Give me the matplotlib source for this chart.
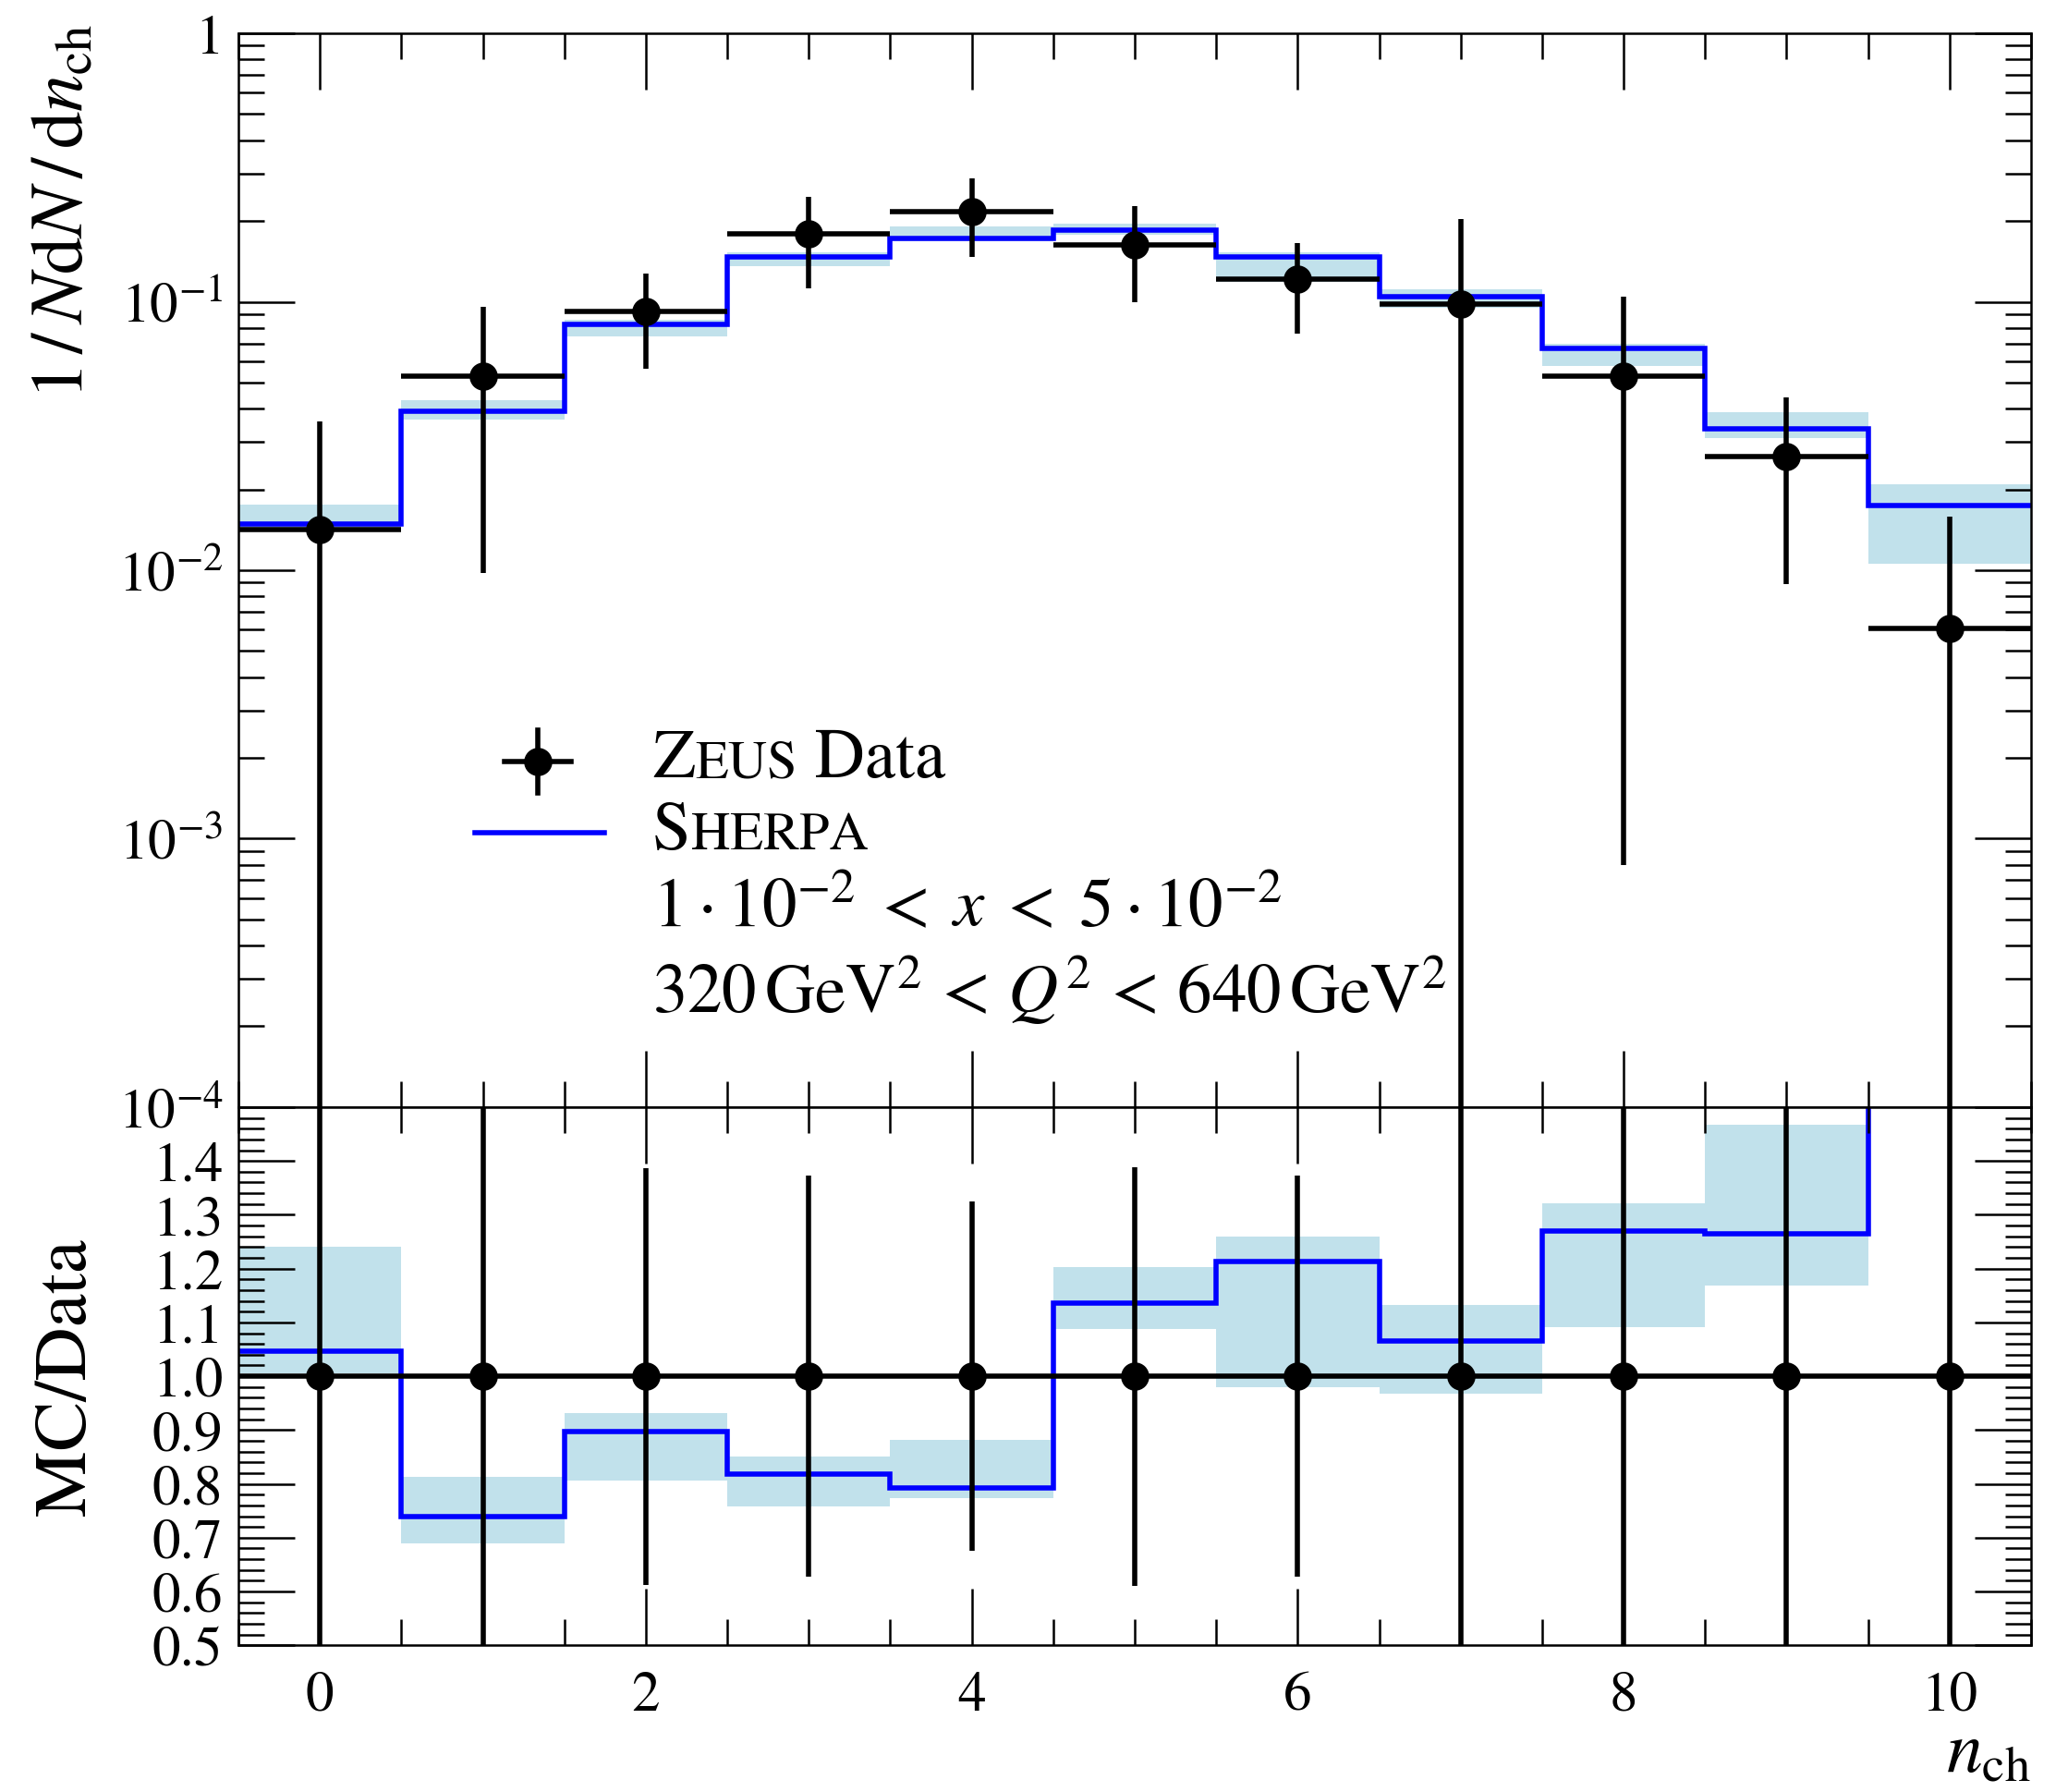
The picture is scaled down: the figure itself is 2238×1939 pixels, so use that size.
import numpy as np
import matplotlib
matplotlib.use('Agg')
import matplotlib.pyplot as plt
from matplotlib.offsetbox import TextArea, HPacker, AnchoredOffsetbox
from matplotlib.ticker import FixedLocator, LogLocator, MultipleLocator, NullFormatter, FuncFormatter

plt.rcParams['font.family'] = 'STIXGeneral'
plt.rcParams['mathtext.fontset'] = 'stix'

# charged multiplicity bins
n_ch = np.arange(11)
bin_edges = np.arange(-0.5, 11.0, 1.0)

# ZEUS data (symmetric errors)
data_val = [0.0142, 0.0528, 0.0919, 0.179, 0.217, 0.163, 0.121, 0.0983, 0.0528, 0.0265, 0.00608]
data_err = [0.0217, 0.0430, 0.0356, 0.0668, 0.0703, 0.0634, 0.0451, 0.105, 0.0520, 0.0176, 0.0098]

# SHERPA prediction and its uncertainty band
mc_val = [0.01485, 0.0390, 0.0825, 0.1464, 0.1721, 0.1852, 0.1467, 0.1047, 0.0670, 0.0335, 0.0174]
mc_lo = [0.01427, 0.03638, 0.0741, 0.1357, 0.1677, 0.1773, 0.1185, 0.0951, 0.05766, 0.03095, 0.0106]
mc_hi = [0.01761, 0.0429, 0.0856, 0.1523, 0.1914, 0.1961, 0.1525, 0.1113, 0.0698, 0.0389, 0.0209]

BAND = '#c1e1eb'
LW = 2.0
MS = 10
TICK_FS = 22


def style_axis(ax):
    ax.tick_params(which='both', direction='in', top=True, right=True, width=0.9)
    ax.tick_params(which='major', length=22)
    ax.tick_params(which='minor', length=10)
    ax.tick_params(axis='y', labelsize=TICK_FS, pad=6)
    ax.tick_params(axis='x', labelsize=TICK_FS, pad=10)
    for sp in ax.spines.values():
        sp.set_linewidth(0.9)
    ax.set_xlim(-0.5, 10.5)
    ax.xaxis.set_major_locator(MultipleLocator(2))
    ax.xaxis.set_minor_locator(MultipleLocator(0.5))


data_val = np.array(data_val)
data_err = np.array(data_err)
mc_val = np.array(mc_val)
mc_lo = np.array(mc_lo)
mc_hi = np.array(mc_hi)

fig = plt.figure(figsize=(11.19, 9.70), dpi=200)
ax = fig.add_axes([0.1153, 0.382, 0.8668, 0.5989])
rax = fig.add_axes([0.1153, 0.0818, 0.8668, 0.3002])

# ---- main panel
ax.set_yscale('log', nonpositive='clip')
ax.bar(n_ch, mc_hi - mc_lo, bottom=mc_lo, width=1.0, color=BAND, lw=0)
ax.errorbar(n_ch, data_val, yerr=data_err, xerr=0.5, fmt='o', color='k',
            ms=MS, lw=LW, capsize=0)
ax.stairs(mc_val, bin_edges, color='#0000ff', lw=LW, baseline=None)
ax.set_ylim(1e-4, 1)
style_axis(ax)
ax.yaxis.set_major_locator(FixedLocator([1e-4, 1e-3, 1e-2, 1e-1, 1]))
ax.yaxis.set_major_formatter(FuncFormatter(
    lambda v, p: '1' if v >= 1 else r'$10^{%d}$' % round(np.log10(v))))
ax.yaxis.set_minor_locator(LogLocator(base=10, subs=np.arange(2, 10)))
ax.yaxis.set_minor_formatter(NullFormatter())
ax.tick_params(labelbottom=False)

# ---- ratio panel
ratio_mc = mc_val / data_val
rax.bar(n_ch, (mc_hi - mc_lo) / data_val, bottom=mc_lo / data_val, width=1.0,
        color=BAND, lw=0)
rax.errorbar(n_ch, np.ones_like(data_val), yerr=data_err / data_val, xerr=0.5,
             fmt='o', color='k', ms=MS, lw=LW, capsize=0)
rax.stairs(ratio_mc, bin_edges, color='#0000ff', lw=LW, baseline=None)
rax.set_ylim(0.5, 1.5)
style_axis(rax)
rax.yaxis.set_major_locator(MultipleLocator(0.1))
rax.yaxis.set_minor_locator(MultipleLocator(0.02))
rax.yaxis.set_major_formatter(FuncFormatter(
    lambda v, p: '' if v > 1.45 else '%.1f' % v))

# ---- axis labels
fig.text(0.0315, 0.9868, r'$1\,/\,N\mathrm{d}N\,/\,\mathrm{d}n_{\mathrm{ch}}$',
         rotation=90, ha='center', va='top', fontsize=29)
fig.text(0.0326, 0.232, 'MC/Data', rotation=90, ha='center', va='center', fontsize=29)
fig.text(0.982, 0.003, r'$n_{\mathrm{ch}}$', ha='right', va='bottom', fontsize=28)

# ---- legend
LEG_FS = 27
lx, ly = 0.167, 0.322
ax.plot([lx - 0.0184, lx + 0.0184], [ly, ly], color='k', lw=LW, transform=ax.transAxes)
ax.plot([lx, lx], [ly - 0.0295, ly + 0.0295], color='k', lw=LW, transform=ax.transAxes)
ax.plot([lx], [ly], 'o', color='k', ms=MS, transform=ax.transAxes)
ax.plot([0.132, 0.204], [0.2555, 0.2555], color='#0000ff', lw=LW, transform=ax.transAxes)


def small_caps_row(parts, y):
    boxes = [TextArea(s, textprops=dict(size=LEG_FS * f)) for s, f in parts]
    pack = HPacker(children=boxes, align='baseline', pad=0, sep=0)
    box = AnchoredOffsetbox(loc='center left', child=pack, pad=0, borderpad=0,
                            frameon=False, bbox_to_anchor=(0.231, y),
                            bbox_transform=ax.transAxes)
    ax.add_artist(box)


small_caps_row([('Z', 1.0), ('EUS', 0.78), (' Data', 1.0)], 0.323)
small_caps_row([('S', 1.0), ('HERPA', 0.78)], 0.2555)
ax.text(0.231, 0.1683, r'$1 \cdot 10^{-2}\; <\; x\; <\; 5 \cdot 10^{-2}$',
        transform=ax.transAxes, fontsize=LEG_FS, va='baseline')
ax.text(0.231, 0.0885, r'$320\,\mathrm{GeV}^2\, <\, Q^2\, <\, 640\,\mathrm{GeV}^2$',
        transform=ax.transAxes, fontsize=LEG_FS, va='baseline')

fig.savefig('out.png', dpi=200)
